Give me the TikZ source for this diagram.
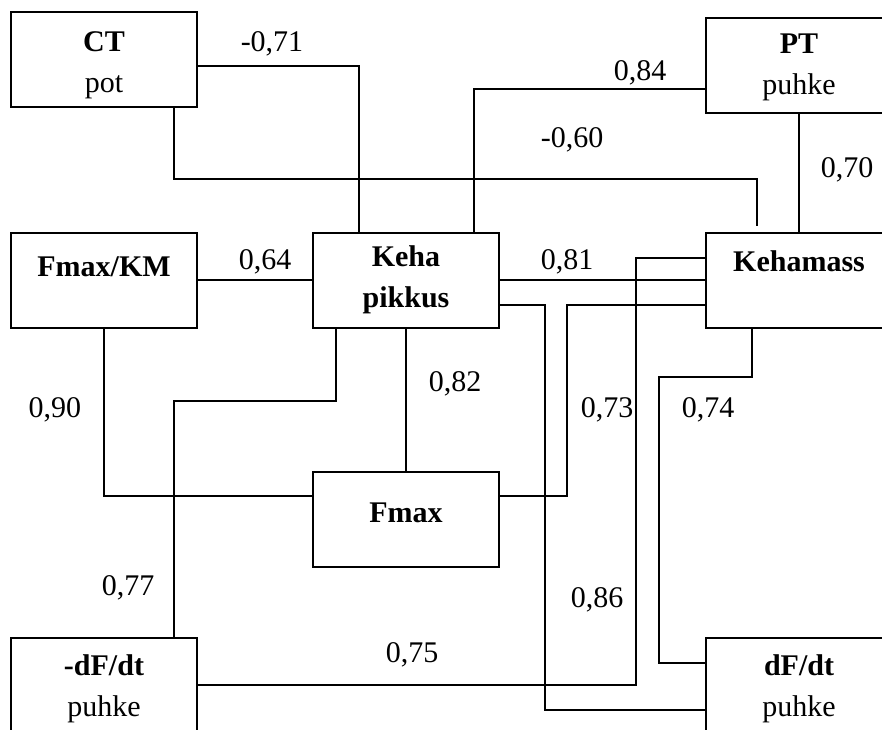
\documentclass[tikz,border=0pt]{standalone}
\usepackage{fontspec}
\setmainfont{Liberation Serif}
\usetikzlibrary{calc, positioning}

\begin{document}
\begin{tikzpicture}[
        x=0.5pt, y=-0.5pt,
        box/.style={rectangle, draw=black, line width=1pt, minimum width=93pt, minimum height=47.5pt, align=center, inner sep=0pt, font=\fontsize{15}{20.5}\selectfont},
        link/.style={line width=1pt, black},
        coef/.style={font=\fontsize{15}{18}\selectfont, inner sep=1pt}
    ]
        \useasboundingbox (0,0) rectangle (882,729);
        \clip (0,0) rectangle (882,729);

        % Nodes
        \node (ct) [box] at (104,59) {\rule{0pt}{16pt}\textbf{CT}\\pot};
        \node (pt) [box] at (799,65) {\rule{0pt}{12pt}\textbf{PT}\\puhke};
        \node (fkm) [box] at (104,280) {\rule{0pt}{17pt}\textbf{Fmax/KM}\\~};
        \node (keha) [box] at (406,280) {\textbf{Keha}\\\textbf{pikkus}};
        \node (mass) [box] at (799,280) {\rule{0pt}{12pt}\textbf{Kehamass}\\~};
        \node (fmax) [box] at (406,519) {\rule[-6pt]{0pt}{6pt}\textbf{Fmax}};
        \node (ndf) [box] at (104,685) {\rule{0pt}{14pt}\textbf{-dF/dt}\\puhke};
        \node (df) [box] at (799,685) {\rule{0pt}{14pt}\textbf{dF/dt}\\puhke};
        \coordinate (ctend) at (757,226);

        % Links
        \draw [link] ($(ct.east)+(0,7)$) -| ($(keha.north)+(-47,0)$);
        \draw [link] ($(ct.south)+(70,0)$) -- ++(0,71) -| (ctend);
        \draw [link] ($(pt.west)+(0,24)$) -| ($(keha.north)+(68,0)$);
        \draw [link] (pt) -- (mass);
        \draw [link] (fkm.east) -- (keha.west);
        \draw [link] (fkm.south) |- ($(fmax.west)+(0,-23)$);
        \draw [link] ($(keha.south)+(-70,0)$) -- ++(0,72) -| ($(ndf.north)+(70,0)$);
        \draw [link] (keha) -- (fmax);
        \draw [link] (keha.east) -- (mass.west);
        \draw [link] ($(keha.east)+(0,25)$) -- ++(45,0) |- ($(df.west)+(0,25)$);
        \draw [link] ($(mass.west)+(0,-22)$) -- ++(-69,0) |- (ndf.east);
        \draw [link] ($(mass.west)+(0,25)$) -- ++(-138,0) |- ($(fmax.east)+(0,-23)$);
        \draw [link] ($(mass.south)+(-47,0)$) -- ++(0,48) -| ($(df.west)+(-46,-22)$) -- ($(df.west)+(0,-22)$);

        % Coefficients
        \node (c071) [coef] at (272,44) {-0,71};
        \node (c060) [coef] at (572,140) {-0,60};
        \node (c084) [coef] at (640,73) {0,84};
        \node (c070) [coef] at (847,170) {0,70};
        \node (c064) [coef] at (265,262) {0,64};
        \node (c081) [coef] at (567,262) {0,81};
        \node (c090) [coef] at (55,410) {0,90};
        \node (c082) [coef] at (455,384) {0,82};
        \node (c073) [coef] at (607,410) {0,73};
        \node (c074) [coef] at (708,410) {0,74};
        \node (c077) [coef] at (128,588) {0,77};
        \node (c086) [coef] at (597,600) {0,86};
        \node (c075) [coef] at (412,655) {0,75};

    \end{tikzpicture}
\end{document}
